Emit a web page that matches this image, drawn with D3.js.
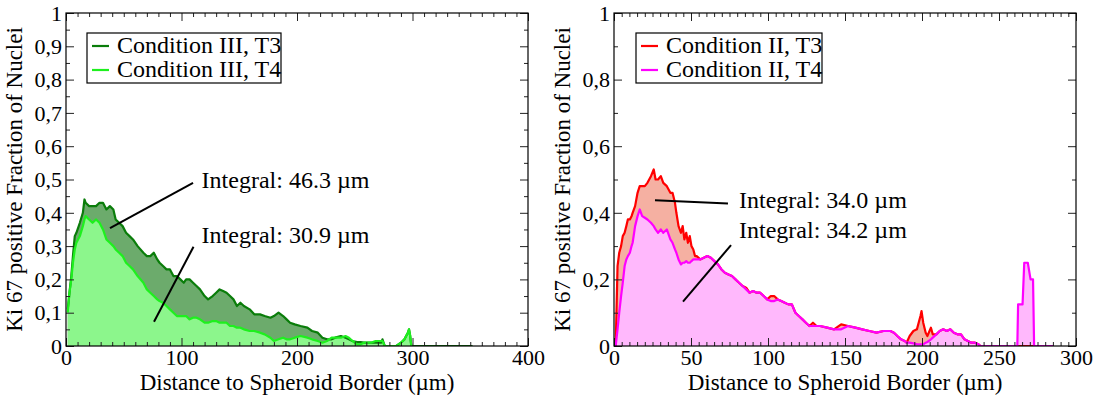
<!DOCTYPE html>
<html><head><meta charset="utf-8">
<script src="https://cdn.jsdelivr.net/npm/d3@7"></script>
<style>
body{margin:0;background:#fff;}
</style></head>
<body><svg id="c" width="1096" height="399"></svg>
<script>
// ---- Left panel data (Condition III) ----
const leftDist = [1.5,3,4.6,6,7.6,9,12,14.6,16,17,20,23,26,29,32,35,38,41,43,46,49,52,55,58,62,67,70,73,76,79,81,84,87,90,93,96,99,102,104,107,110,113,116,120,123,127,130,133,136,139,142,145,148,151,154,159,163,168,172,177,180,184,188,191,194,198,203,209,213,218,222,226,230,233,238,242,245,248,252,255,258,261,264,268,273,274,276,286,290,293,296,297,298,299,300,352];
const leftT3 = [0.11,0.16,0.21,0.27,0.33,0.34,0.37,0.40,0.44,0.43,0.42,0.42,0.42,0.43,0.43,0.41,0.42,0.41,0.38,0.37,0.36,0.34,0.33,0.32,0.30,0.28,0.27,0.27,0.28,0.26,0.25,0.24,0.23,0.23,0.21,0.21,0.20,0.19,0.20,0.20,0.19,0.18,0.17,0.15,0.14,0.15,0.16,0.17,0.165,0.16,0.15,0.14,0.12,0.13,0.12,0.11,0.095,0.095,0.09,0.085,0.09,0.10,0.09,0.08,0.07,0.065,0.06,0.055,0.045,0.04,0.025,0.02,0.02,0.025,0.03,0.025,0.02,0.015,0.012,0.012,0.01,0.01,0.01,0.01,0.01,0.02,0,0,0.01,0.02,0.04,0.05,0.03,0,0,0];
const leftT4 = [0.10,0.16,0.20,0.25,0.29,0.31,0.33,0.36,0.38,0.39,0.38,0.37,0.38,0.37,0.35,0.32,0.31,0.30,0.29,0.28,0.27,0.25,0.24,0.23,0.21,0.19,0.17,0.16,0.15,0.14,0.135,0.13,0.12,0.11,0.10,0.09,0.09,0.09,0.09,0.08,0.085,0.085,0.08,0.07,0.07,0.075,0.075,0.07,0.07,0.07,0.06,0.06,0.055,0.055,0.05,0.045,0.045,0.04,0.035,0.025,0.015,0.02,0.025,0.02,0.02,0.025,0.03,0.025,0.02,0.015,0.01,0.015,0.025,0.025,0.025,0.03,0.025,0.015,0.005,0.005,0.01,0.01,0.01,0.015,0.015,0.015,0,0,0.01,0.02,0.04,0.05,0.03,0,0,null];

// ---- Right panel data (Condition II) ----
const rightDist = [1.1,2.3,3.4,4.6,5.7,6.9,8,9,10.3,11.4,12.1,13.7,15.3,16.7,18.3,20,21.7,24,25.8,27,28.6,30.4,32,34.3,36.6,38,39.6,40.5,41.9,43.5,44.6,45.7,46.9,48,49.2,50.3,51.5,52.6,53.7,56,58.3,60.6,62.9,65.2,67.5,69.8,72,74.3,76.6,78.9,81.2,83.5,85.8,88,90.3,92.6,94.9,97.2,99.5,101.8,104,106.3,108.6,110.9,113.2,115.5,117.8,120,122.4,124.6,126.9,129.2,131.5,133.8,138.4,142.9,147.5,152,156.7,161.2,165.8,170.4,175,179.5,181.8,184,186.4,188.7,190,192,194.4,196.7,199,199.7,200.8,202.4,203.5,205.8,207,209.3,211.5,213.8,216.1,218.4,220.7,223,225.3,227.6,229.8,232,234.4,236.7,238,261.9,262.4,265.3,266.4,268.7,270.5,272.1,272.8,285];
const rightT3 = [0,0.24,0.28,0.30,0.33,0.34,0.36,0.38,0.38,0.39,0.40,0.42,0.46,0.48,0.48,0.48,0.49,0.51,0.53,0.50,0.50,0.51,0.49,0.48,0.46,0.46,0.43,0.40,0.36,0.34,0.36,0.32,0.34,0.31,0.33,0.30,0.29,0.27,0.27,0.26,0.265,0.27,0.265,0.255,0.245,0.23,0.22,0.215,0.21,0.2,0.19,0.18,0.175,0.16,0.165,0.16,0.16,0.15,0.14,0.15,0.15,0.14,0.135,0.13,0.125,0.125,0.1,0.09,0.08,0.07,0.06,0.07,0.06,0.06,0.055,0.05,0.065,0.06,0.055,0.05,0.045,0.04,0.045,0.045,0.04,0.03,0.02,0.015,0.01,0.03,0.045,0.05,0.09,0.105,0.07,0.04,0.03,0.055,0.035,0.035,0.045,0.05,0.045,0.05,0.04,0.035,0.035,0.02,0.015,0.01,0.01,0.005,0,0,0,0,0,0,0,0,0,0];
const rightT4 = [0,0.05,0.10,0.15,0.19,0.24,0.26,0.27,0.28,0.30,0.31,0.36,0.39,0.41,0.39,0.385,0.38,0.37,0.36,0.35,0.34,0.35,0.34,0.35,0.32,0.31,0.29,0.28,0.26,0.245,0.25,0.25,0.255,0.25,0.25,0.255,0.26,0.26,0.26,0.26,0.265,0.27,0.265,0.255,0.245,0.23,0.22,0.215,0.21,0.2,0.19,0.18,0.17,0.16,0.165,0.16,0.16,0.15,0.14,0.135,0.135,0.14,0.135,0.13,0.125,0.125,0.1,0.09,0.08,0.07,0.06,0.06,0.06,0.06,0.055,0.05,0.05,0.06,0.055,0.05,0.045,0.04,0.045,0.045,0.04,0.03,0.02,0.015,0.01,0.01,0.008,0.005,0.005,0.005,0.005,0.01,0.012,0.02,0.025,0.035,0.045,0.05,0.045,0.05,0.04,0.035,0.035,0.02,0.015,0.01,0.01,0.005,0,0,0.125,0.125,0.25,0.25,0.2,0.2,0,0];

// ---- Tick labels / text ----
const leftYTicks = [0,0.1,0.2,0.3,0.4,0.5,0.6,0.7,0.8,0.9,1];
const rightYTicks = [0,0.2,0.4,0.6,0.8,1];
const leftXTicks = [0,100,200,300,400];
const rightXTicks = [0,50,100,150,200,250,300];
const xTitle = "Distance to Spheroid Border (µm)";
const yTitle = "Ki 67 positive Fraction of Nuclei";

const FONT = "Liberation Serif";

const panels = [
  {x0:66, x1:528, domain:[0,400], xt:leftXTicks, xMinor:10, yt:leftYTicks, yMinor:0.05,
   dist:leftDist, s3:leftT3, s4:leftT4,
   names:["Condition III, T3","Condition III, T4"],
   line3:"#0a7d0a", line4:"#1ef01e", fill3:"#6cab6c", fill4:"#8cf68c",
   legend:{x:87,y:33,w:194,h:50},
   notes:[{text:"Integral: 46.3 µm", from:[38.1,0.354], to:[110,0.49], at:[117.4,0.474]},
          {text:"Integral: 30.9 µm", from:[76.2,0.073], to:[110.4,0.298], at:[117.4,0.309]}]},
  {x0:614, x1:1076, domain:[0,300], xt:rightXTicks, xMinor:5, yt:rightYTicks, yMinor:0.1,
   dist:rightDist, s3:rightT3, s4:rightT4,
   names:["Condition II, T3","Condition II, T4"],
   line3:"#ff0000", line4:"#ff00ff", fill3:"#f5b0a2", fill4:"#ffb8fc",
   legend:{x:636,y:33,w:186,h:50},
   notes:[{text:"Integral: 34.0 µm", from:[26.6,0.438], to:[74,0.428], at:[81.2,0.414]},
          {text:"Integral: 34.2 µm", from:[44.8,0.133], to:[76,0.303], at:[81.2,0.324]}]}
];

const svg = d3.select("#c");
const yTop = 13, yBot = 346;
const fmt = v => v===0 ? "0" : v===1 ? "1" : String(v).replace(".", ",");
const txt = (sel, size) => sel.attr("font-family", FONT).attr("font-size", size).attr("fill","#000");

panels.forEach(p => {
  const x = d3.scaleLinear().domain(p.domain).range([p.x0, p.x1]);
  const y = d3.scaleLinear().domain([0,1]).range([yBot, yTop]);
  const g = svg.append("g");
  const clipId = "clip" + p.x0;
  svg.append("clipPath").attr("id", clipId).append("rect")
    .attr("x", p.x0).attr("y", yTop).attr("width", p.x1-p.x0).attr("height", yBot-yTop);

  const d3pts = p.dist.map((d,i)=>({d, v:p.s3[i]}));
  const d4pts = p.dist.map((d,i)=>({d, v:p.s4[i]})).filter(o=>o.v!==null);
  const area = d3.area().x(o=>x(o.d)).y0(y(0)).y1(o=>y(o.v));
  const line = d3.line().x(o=>x(o.d)).y(o=>y(o.v));
  const plot = g.append("g").attr("clip-path", `url(#${clipId})`);
  plot.append("path").attr("d", area(d3pts)).attr("fill", p.fill3);
  plot.append("path").attr("d", area(d4pts)).attr("fill", p.fill4);
  plot.append("path").attr("d", line(d3pts)).attr("fill","none").attr("stroke", p.line3).attr("stroke-width",2.2).attr("stroke-linejoin","round");
  plot.append("path").attr("d", line(d4pts)).attr("fill","none").attr("stroke", p.line4).attr("stroke-width",2.2).attr("stroke-linejoin","round");

  // minor ticks
  const xMinorVals = d3.range(p.domain[0], p.domain[1]+1e-9, p.xMinor).filter(v=>!p.xt.includes(v));
  const yMinorVals = d3.range(0, 1+1e-9, p.yMinor).map(v=>+v.toFixed(3)).filter(v=>!p.yt.some(t=>Math.abs(t-v)<1e-6));
  const tickStyle = sel => { sel.select(".domain").remove(); sel.selectAll("line").attr("stroke","#222").attr("stroke-width",1); };
  g.append("g").attr("transform",`translate(0,${yBot})`).call(d3.axisBottom(x).tickValues(xMinorVals).tickSize(-4).tickFormat("")).call(tickStyle);
  g.append("g").attr("transform",`translate(0,${yTop})`).call(d3.axisTop(x).tickValues(xMinorVals).tickSize(-4).tickFormat("")).call(tickStyle);
  g.append("g").attr("transform",`translate(${p.x0},0)`).call(d3.axisLeft(y).tickValues(yMinorVals).tickSize(-4).tickFormat("")).call(tickStyle);
  g.append("g").attr("transform",`translate(${p.x1},0)`).call(d3.axisRight(y).tickValues(yMinorVals).tickSize(-4).tickFormat("")).call(tickStyle);
  // major ticks
  const bx = g.append("g").attr("transform",`translate(0,${yBot})`).call(d3.axisBottom(x).tickValues(p.xt).tickSize(-8).tickFormat(d3.format("d"))).call(tickStyle);
  bx.attr("font-family", FONT);
  bx.selectAll("text").attr("y",19).attr("dy",null).call(txt,22);
  g.append("g").attr("transform",`translate(0,${yTop})`).call(d3.axisTop(x).tickValues(p.xt).tickSize(-8).tickFormat("")).call(tickStyle);
  const ly = g.append("g").attr("transform",`translate(${p.x0},0)`).call(d3.axisLeft(y).tickValues(p.yt).tickSize(-8).tickPadding(4).tickFormat(fmt)).call(tickStyle);
  ly.attr("font-family", FONT);
  ly.selectAll("text").attr("dy","0.33em").call(txt,22);
  g.append("g").attr("transform",`translate(${p.x1},0)`).call(d3.axisRight(y).tickValues(p.yt).tickSize(-8).tickFormat("")).call(tickStyle);

  // frame
  g.append("rect").attr("x",p.x0).attr("y",yTop).attr("width",p.x1-p.x0).attr("height",yBot-yTop)
    .attr("fill","none").attr("stroke","#000").attr("stroke-width",1.2);

  // titles
  g.append("text").attr("x",(p.x0+p.x1)/2).attr("y",390).attr("text-anchor","middle").call(txt,23).text(xTitle);
  g.append("text").attr("transform",`translate(${p.x0-44},${(yTop+yBot)/2}) rotate(-90)`).attr("text-anchor","middle").call(txt,23).text(yTitle);

  // legend
  const L = p.legend;
  g.append("rect").attr("x",L.x).attr("y",L.y).attr("width",L.w).attr("height",L.h).attr("fill","#fff").attr("stroke","#000").attr("stroke-width",1.2);
  [[p.line3,p.names[0]],[p.line4,p.names[1]]].forEach(([c,n],i)=>{
    const by = L.y + 20 + i*24;
    g.append("line").attr("x1",L.x+5).attr("x2",L.x+22).attr("y1",by-7).attr("y2",by-7).attr("stroke",c).attr("stroke-width",2.2);
    g.append("text").attr("x",L.x+30).attr("y",by).call(txt,24).text(n);
  });

  // annotations
  p.notes.forEach(n=>{
    g.append("line").attr("x1",x(n.from[0])).attr("y1",y(n.from[1])).attr("x2",x(n.to[0])).attr("y2",y(n.to[1]))
      .attr("stroke","#000").attr("stroke-width",2);
    g.append("text").attr("x",x(n.at[0])).attr("y",y(n.at[1])).call(txt,24).text(n.text);
  });
});
</script></body></html>
